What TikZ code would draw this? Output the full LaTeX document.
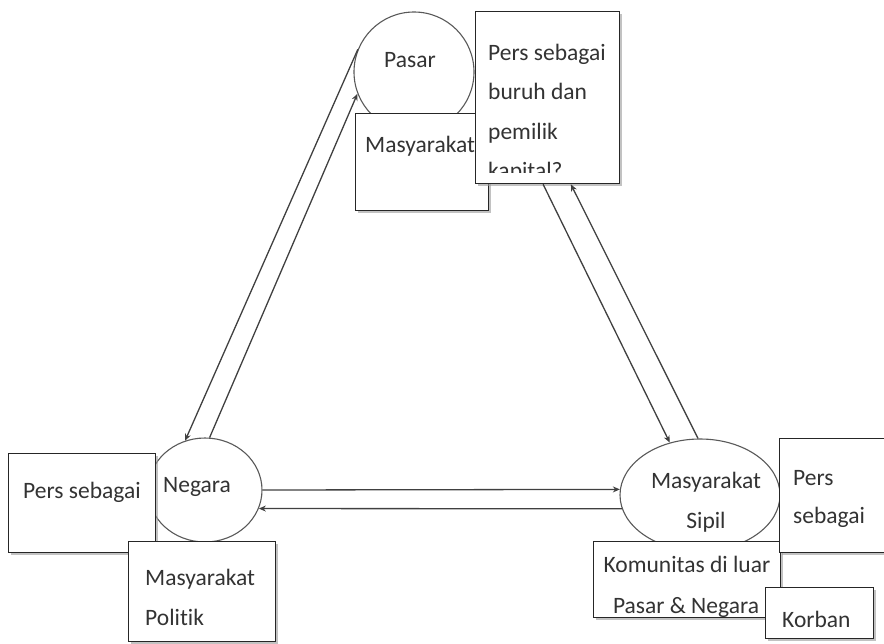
\documentclass[tikz,border=0pt]{standalone}
\usepackage{fontspec}
\setmainfont{Carlito}[Ligatures=NoCommon]
\usetikzlibrary{arrows.meta,shapes.geometric,shadows}

\tikzset{
	kotak/.style={draw=black!85, line width=1.3pt, fill=white, inner sep=0pt, anchor=north west,
		drop shadow={shadow xshift=2pt, shadow yshift=-2.5pt, fill=black!40, opacity=0.6}},
	bulat/.style={ellipse, draw=black!65, line width=1.1pt, fill=white, inner sep=0pt},
	teks/.style={font=\fontsize{23.5}{40}\selectfont, text=black!80, inner sep=0pt, anchor=base west},
	panah/.style={draw=black!75, line width=1.3pt, -{Stealth[length=7pt,width=6pt,fill=black]}},
}

\begin{document}
\begin{tikzpicture}[x=1pt, y=-1pt]
	\useasboundingbox (0,0) rectangle (884,643);

	\node[bulat, circle, minimum size=120pt] (pasar) at (414,72) {};
	\node[teks, anchor=base] (pasarT) at (410,67) {Pasar};

	\node[kotak, minimum width=133pt, minimum height=97pt] (masatas) at (355,113) {};
	\node[teks] (masatasT) at (365,152) {Masyarakat};

	\node[kotak, minimum width=144pt, minimum height=172pt] (persatas) at (475,11) {};
	\begin{scope}
		\clip (persatas.north west) rectangle ([shift={(0,-12)}]persatas.south east);
		\node[teks] (persatasA) at (488,60) {Pers sebagai};
		\node[teks] (persatasB) at (488,99) {buruh dan};
		\node[teks] (persatasC) at (488,139) {pemilik};
		\node[teks] (persatasD) at (488,178) {kapital?};
	\end{scope}

	\node[bulat, minimum width=114pt, minimum height=104pt] (negara) at (205,490) {};
	\node[teks] (negaraT) at (163,492) {Negara};

	\node[kotak, minimum width=147pt, minimum height=99pt] (perskiri) at (8,453) {};
	\node[teks] (perskiriT) at (23,498) {Pers sebagai};

	\node[kotak, minimum width=147pt, minimum height=100pt] (politik) at (128,541) {};
	\node[teks] (politikA) at (145,585) {Masyarakat};
	\node[teks] (politikB) at (145,625) {Politik};

	\node[bulat, minimum width=160pt, minimum height=112pt] (sipil) at (700,495) {};
	\node[teks, anchor=base] (sipilA) at (706,488) {Masyarakat};
	\node[teks, anchor=base] (sipilB) at (706,528) {Sipil};

	\node[kotak, minimum width=187pt, minimum height=76pt] (komunitas) at (593,541) {};
	\begin{scope}
		\clip (komunitas.north west) rectangle (komunitas.south east);
		\node[teks, anchor=base] (komunitasA) at (687,572) {Komunitas di luar};
		\node[teks, anchor=base] (komunitasB) at (686,613) {Pasar \& Negara};
	\end{scope}

	\node[kotak, minimum width=116pt, minimum height=114pt] (perskanan) at (779,438) {};
	\node[teks] (perskananA) at (793,485) {Pers};
	\node[teks] (perskananB) at (793,523) {sebagai};

	\node[kotak, minimum width=108pt, minimum height=51pt] (korban) at (765,587) {};
	\begin{scope}
		\clip (korban.north west) rectangle ([shift={(0,-8)}]korban.south east);
		\node[teks] (korbanT) at (782,627) {Korban};
	\end{scope}

	\draw[panah] (pasar.158) -- (negara.112);
	\draw[panah] (negara.85) -- (pasar.201);
	\draw[panah] (negara.0) -- (sipil.176);
	\draw[panah] (sipil.190) -- (negara.341);
	\draw[panah] (persatas.267) -- (sipil.120);
	\draw[panah] (sipil.92) -- (persatas.285);
\end{tikzpicture}
\end{document}
